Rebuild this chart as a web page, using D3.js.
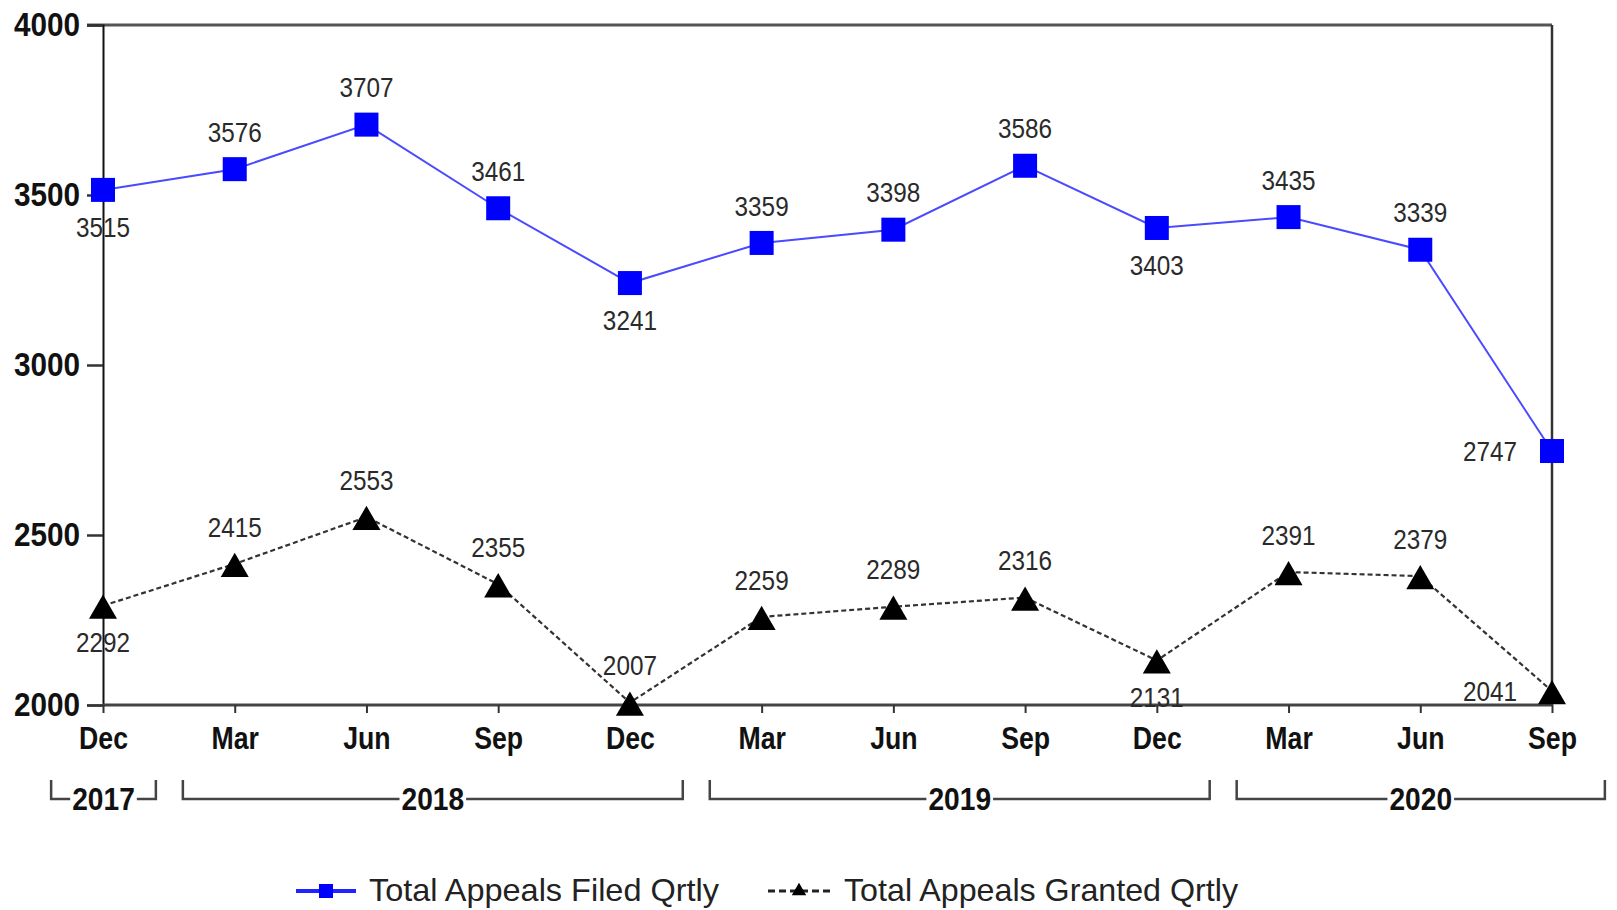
<!DOCTYPE html>
<html><head><meta charset="utf-8">
<script src="https://cdn.jsdelivr.net/npm/d3@7"></script>
<style>
html,body{margin:0;padding:0;background:#fff;}
text{font-family:"Liberation Sans",Arial,sans-serif;}
</style></head>
<body>
<svg id="chart" width="1617" height="910"></svg>
<script>
const months = ["Dec","Mar","Jun","Sep","Dec","Mar","Jun","Sep","Dec","Mar","Jun","Sep"];
const years = [{label:"2017",from:0,to:0},{label:"2018",from:1,to:4},{label:"2019",from:5,to:8},{label:"2020",from:9,to:11}];
const filed = [3515,3576,3707,3461,3241,3359,3398,3586,3403,3435,3339,2747];
const granted = [2292,2415,2553,2355,2007,2259,2289,2316,2131,2391,2379,2041];
const yTicks = [2000,2500,3000,3500,4000];
// label placement: a=above, b=below, l=left
const filedPos = ["b","a","a","a","b","a","a","a","b","a","a","l"];
const grantedPos = ["b","a","a","a","a","a","a","a","b","a","a","l"];

const svg = d3.select("#chart");
const L = 103, R = 1552, T = 25, B = 705;
const x = d3.scalePoint().domain(d3.range(months.length)).range([L, R]);
const y = d3.scaleLinear().domain([2000, 4000]).range([B, T]);
const step = x.step();

function condense(sel, k) {
  sel.each(function() {
    const w = this.getComputedTextLength();
    d3.select(this).attr("textLength", w * k).attr("lengthAdjust", "spacingAndGlyphs");
  });
}

// frame top & right
svg.append("line").attr("x1", 87).attr("x2", R).attr("y1", T).attr("y2", T).attr("stroke", "#555").attr("stroke-width", 3);
svg.append("line").attr("x1", R).attr("x2", R).attr("y1", T).attr("y2", B).attr("stroke", "#333").attr("stroke-width", 2.5);

// y axis
const yAxis = d3.axisLeft(y).tickValues(yTicks).tickSize(16).tickPadding(7).tickFormat(d3.format("d"));
const gy = svg.append("g").attr("transform", `translate(${L},0)`).call(yAxis);
gy.select(".domain").attr("stroke", "#111").attr("stroke-width", 2);
gy.selectAll(".tick line").attr("stroke", "#333").attr("stroke-width", 2.5);
gy.selectAll(".tick text").attr("font-size", 33).attr("font-weight", "bold").attr("fill", "#111")
  .style("font-family", "Liberation Sans, Arial, sans-serif").call(condense, 0.9);

// x axis
const xAxis = d3.axisBottom(x).tickSize(8).tickPadding(14).tickFormat(i => months[i]);
const gx = svg.append("g").attr("transform", `translate(0,${B})`).call(xAxis);
gx.select(".domain").attr("stroke", "#444").attr("stroke-width", 3).attr("d", `M${L},0H${R}`);
gx.selectAll(".tick line").attr("stroke", "#333").attr("stroke-width", 2);
gx.selectAll(".tick text").attr("font-size", 31).attr("font-weight", "bold").attr("fill", "#111")
  .style("font-family", "Liberation Sans, Arial, sans-serif").call(condense, 0.86);

// year brackets
const yb = 799;
years.forEach(g => {
  const x1 = x(g.from) - step / 2 + 14;
  const x2 = x(g.to) + step / 2 - 13;
  svg.append("path").attr("d", `M${x1},${yb-19}V${yb}H${x2}V${yb-19}`)
    .attr("fill", "none").attr("stroke", "#444").attr("stroke-width", 2.5);
  const cx = (x1 + x2) / 2;
  const bg = svg.append("rect");
  const t = svg.append("text").attr("x", cx).attr("y", yb + 11).attr("text-anchor", "middle")
    .attr("font-size", 32).attr("font-weight", "bold").attr("fill", "#111").text(g.label);
  t.call(condense, 0.88);
  const bb = t.node().getBBox();
  bg.attr("x", bb.x - 2).attr("y", yb - 3).attr("width", bb.width + 4).attr("height", 6).attr("fill", "#fff");
});

// series lines
const lineGen = d3.line().x((d, i) => x(i)).y(d => y(d));
svg.append("path").datum(granted).attr("d", lineGen).attr("fill", "none")
  .attr("stroke", "#333").attr("stroke-width", 2.2).attr("stroke-dasharray", "5,3");
svg.append("path").datum(filed).attr("d", lineGen).attr("fill", "none")
  .attr("stroke", "#4a4aff").attr("stroke-width", 2);

// markers
const sq = 24;
svg.selectAll("rect.f").data(filed).enter().append("rect").attr("class", "f")
  .attr("x", (d, i) => x(i) - sq / 2).attr("y", d => y(d) - sq / 2).attr("width", sq).attr("height", sq).attr("fill", "#0000ff");
const tri = d3.symbol().type(d3.symbolTriangle).size(340);
svg.selectAll("path.g").data(granted).enter().append("path").attr("class", "g")
  .attr("d", tri).attr("transform", (d, i) => `translate(${x(i)},${y(d)+5})`).attr("fill", "#000");

// data labels
function labels(data, pos) {
  svg.selectAll(null).data(data).enter().append("text")
    .attr("x", (d, i) => pos[i] === "l" ? x(i) - 62 : x(i))
    .attr("y", (d, i) => pos[i] === "a" ? y(d) - 37 : pos[i] === "b" ? y(d) + 37 : y(d))
    .attr("dy", "0.36em").attr("text-anchor", "middle")
    .attr("font-size", 27).attr("fill", "#2a2a2a")
    .text(d => d).call(condense, 0.9);
}
labels(filed, filedPos);
labels(granted, grantedPos);

// legend
const ly = 891;
svg.append("line").attr("x1", 296).attr("x2", 356).attr("y1", ly).attr("y2", ly).attr("stroke", "#2222ff").attr("stroke-width", 4);
svg.append("rect").attr("x", 319).attr("y", ly - 7).attr("width", 14).attr("height", 14).attr("fill", "#0000ff");
svg.append("text").attr("x", 369).attr("y", 901).attr("font-size", 32).attr("fill", "#222")
  .text("Total Appeals Filed Qrtly").attr("textLength", 350).attr("lengthAdjust", "spacingAndGlyphs");
svg.append("line").attr("x1", 768).attr("x2", 830).attr("y1", ly).attr("y2", ly).attr("stroke", "#222").attr("stroke-width", 3).attr("stroke-dasharray", "7,4");
svg.append("path").attr("d", d3.symbol().type(d3.symbolTriangle).size(90)).attr("transform", `translate(799,${ly})`).attr("fill", "#000");
svg.append("text").attr("x", 844).attr("y", 901).attr("font-size", 32).attr("fill", "#222")
  .text("Total Appeals Granted Qrtly").attr("textLength", 394).attr("lengthAdjust", "spacingAndGlyphs");
</script>
</body></html>
